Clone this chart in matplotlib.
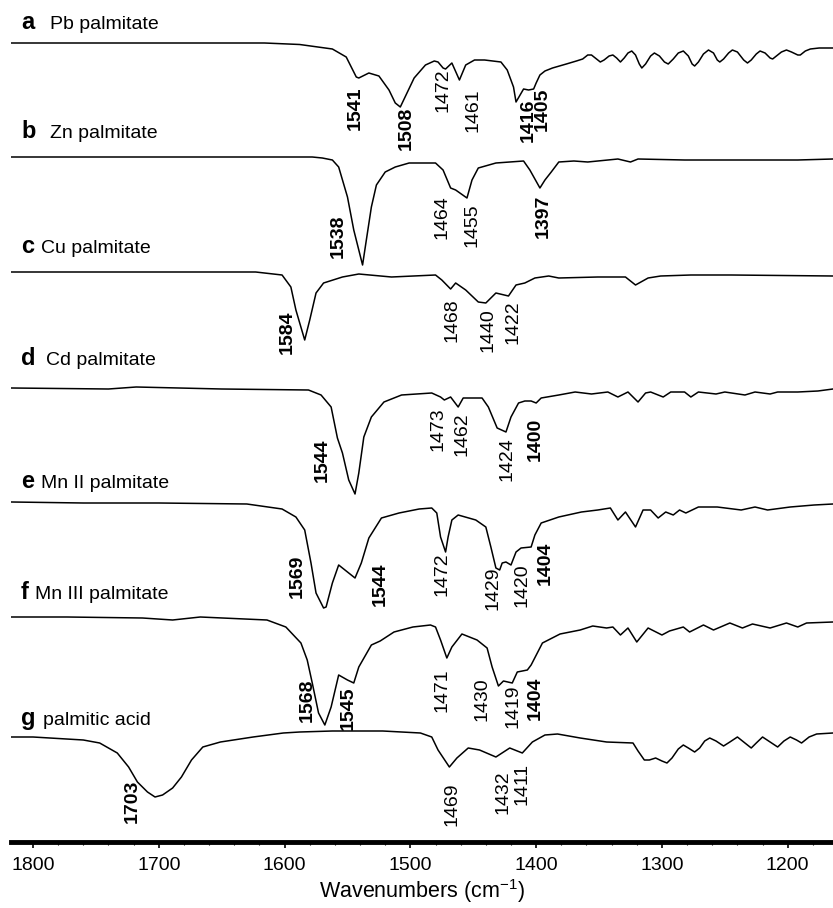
import numpy as np
import matplotlib
matplotlib.use("Agg")
import matplotlib.pyplot as plt
from matplotlib.ticker import MultipleLocator

plt.rcParams['font.family'] = ['Liberation Sans', 'DejaVu Sans']

# each trace: wavenumber (cm-1) and drop below its own baseline
pb_wn = [1817, 1616, 1588, 1562, 1551, 1543, 1541, 1533, 1525, 1517, 1512, 1508, 1497, 1488,
         1481, 1478, 1474, 1472, 1467, 1461, 1456, 1449, 1441, 1428, 1423, 1418, 1416, 1410,
         1406, 1402, 1400, 1397, 1393, 1387, 1376, 1368, 1363, 1359, 1356, 1352, 1349, 1346,
         1342, 1339, 1336, 1333, 1330, 1327, 1324, 1321, 1318, 1316, 1313, 1309, 1306, 1302,
         1298, 1295, 1291, 1287, 1283, 1279, 1276, 1274, 1271, 1267, 1263, 1259, 1256, 1254,
         1251, 1247, 1244, 1240, 1235, 1232, 1229, 1225, 1222, 1218, 1214, 1212, 1209, 1205,
         1201, 1197, 1192, 1190, 1186, 1182, 1175, 1164]
pb_dep = [0, 0, 1.5, 6, 14, 34, 35, 30, 33, 47, 60, 64, 35, 22,
          18, 19, 25, 26, 20, 37, 22, 17, 17, 19, 27, 44, 59, 46,
          47, 46, 40, 32, 28, 25, 21, 18, 16, 12, 12, 16, 19, 17,
          13, 12, 15, 19, 15, 10, 8, 12, 21, 25, 21, 13, 10, 13,
          19, 21, 16, 10, 8, 13, 21, 23, 19, 11, 7, 10, 17, 19,
          16, 10, 7, 9, 17, 20, 17, 11, 8, 10, 15, 16, 13, 9,
          7, 9, 12, 12, 8, 6, 5, 5]

zn_wn = [1817, 1578, 1570, 1562, 1557, 1550, 1545, 1538, 1535, 1531, 1527, 1520, 1512, 1501,
         1480, 1474, 1468, 1464, 1455, 1451, 1446, 1432, 1410, 1405, 1397, 1393, 1388, 1382,
         1370, 1359, 1335, 1325, 1319, 1282, 1240, 1216, 1192, 1164]
zn_dep = [0, 0, 1, 3, 10, 40, 73, 108, 83, 50, 28, 15, 10, 6,
          6, 13, 31, 33, 41, 23, 11, 6, 4, 13, 31, 23, 15, 5,
          4, 5, 2, 5, 2, 3, 3, 3, 3, 2]

cu_wn = [1817, 1623, 1602, 1595, 1591, 1584, 1580, 1575, 1569, 1554, 1541, 1515, 1480, 1475,
         1468, 1464, 1456, 1446, 1440, 1432, 1422, 1416, 1409, 1401, 1390, 1382, 1351, 1329,
         1321, 1311, 1301, 1277, 1245, 1164]
cu_dep = [0, 0, 3, 15, 38, 68, 48, 21, 11, 5, 2, 5, 3, 8,
          17, 11, 18, 30, 31, 21, 24, 13, 11, 6, 4, 6, 5, 5,
          13, 6, 4, 3, 3, 4]

cd_wn = [1817, 1740, 1718, 1650, 1581, 1571, 1563, 1558, 1554, 1549, 1544, 1541, 1537, 1531,
         1521, 1507, 1483, 1476, 1473, 1468, 1462, 1458, 1443, 1438, 1431, 1424, 1420, 1414,
         1409, 1404, 1400, 1396, 1382, 1369, 1356, 1343, 1335, 1327, 1319, 1313, 1309, 1299,
         1293, 1282, 1277, 1271, 1257, 1250, 1234, 1226, 1214, 1208, 1192, 1176, 1164]
cd_dep = [0, 1, -1, 1, 2, 7, 19, 50, 65, 92, 106, 85, 49, 29,
          14, 7, 5, 9, 12, 9, 19, 10, 10, 19, 40, 44, 29, 15,
          13, 13, 15, 10, 7, 4, 6, 4, 9, 4, 14, 5, 4, 9,
          4, 4, 9, 4, 6, 4, 7, 4, 6, 4, 4, 3, 1]

mn2_wn = [1817, 1760, 1700, 1630, 1602, 1591, 1584, 1579, 1575, 1569, 1567, 1562, 1557, 1550,
          1544, 1539, 1533, 1523, 1509, 1493, 1483, 1479, 1476, 1472, 1470, 1467, 1462, 1448,
          1440, 1436, 1432, 1429, 1427, 1424, 1420, 1416, 1412, 1404, 1401, 1396, 1382, 1364,
          1351, 1341, 1335, 1329, 1321, 1315, 1309, 1303, 1297, 1291, 1286, 1281, 1271, 1256,
          1237, 1226, 1216, 1198, 1179, 1164]
mn2_dep = [0, 1, 1, 2, 7, 15, 28, 61, 91, 106, 105, 81, 63, 70,
           76, 61, 36, 16, 11, 7, 6, 11, 35, 50, 35, 18, 13, 18,
           25, 45, 66, 68, 61, 60, 63, 50, 46, 45, 33, 21, 15, 10,
           8, 6, 18, 10, 25, 8, 8, 16, 10, 13, 8, 11, 5, 5,
           8, 5, 8, 5, 3, 2]

mn3_wn = [1817, 1773, 1713, 1689, 1667, 1614, 1599, 1587, 1582, 1578, 1573, 1568, 1563, 1557,
          1550, 1545, 1541, 1531, 1524, 1513, 1498, 1484, 1480, 1476, 1471, 1467, 1459, 1447,
          1439, 1435, 1430, 1426, 1419, 1415, 1407, 1404, 1395, 1381, 1365, 1355, 1344, 1339,
          1333, 1327, 1320, 1311, 1300, 1294, 1283, 1278, 1267, 1259, 1246, 1236, 1228, 1214,
          1201, 1192, 1185, 1164]
mn3_dep = [0, 0, 1, 3, 0, 3, 10, 26, 43, 66, 96, 108, 90, 58,
           63, 66, 50, 28, 24, 15, 10, 8, 10, 23, 41, 30, 17, 23,
           31, 50, 69, 64, 66, 55, 53, 48, 26, 17, 13, 9, 11, 10,
           18, 11, 25, 11, 18, 14, 10, 15, 8, 13, 6, 11, 7, 11,
           6, 10, 6, 5]

pa_wn = [1817, 1800, 1760, 1747, 1733, 1724, 1717, 1709, 1703, 1697, 1689, 1682, 1674, 1665,
         1651, 1625, 1601, 1588, 1562, 1522, 1492, 1483, 1478, 1469, 1463, 1454, 1445, 1432,
         1421, 1411, 1403, 1393, 1383, 1365, 1344, 1323, 1319, 1314, 1310, 1305, 1300, 1296,
         1292, 1287, 1283, 1279, 1274, 1270, 1266, 1262, 1257, 1251, 1246, 1240, 1235, 1229,
         1225, 1220, 1214, 1208, 1203, 1198, 1193, 1189, 1183, 1177, 1164]
pa_dep = [0, 0, 3, 6, 16, 30, 45, 55, 60, 58, 51, 40, 23, 10,
          5, 0, -4, -5, -6, -6, -4, 0, 13, 30, 21, 11, 13, 20,
          11, 16, 5, -2, -3, 1, 5, 6, 14, 23, 23, 21, 24, 26,
          21, 12, 8, 11, 15, 11, 4, 1, 4, 9, 5, 0, 5, 11,
          6, 0, 5, 10, 4, 0, 3, 6, 0, -3, -4]

letters = ['a', 'b', 'c', 'd', 'e', 'f', 'g']
names = ['Pb palmitate', 'Zn palmitate', 'Cu palmitate', 'Cd palmitate',
         'Mn II palmitate', 'Mn III palmitate', 'palmitic acid']

# assigned bands, bold = carboxylate / acid C=O bands
pb_peaks = [1541, 1508, 1472, 1461, 1416, 1405]
zn_peaks = [1538, 1464, 1455, 1397]
cu_peaks = [1584, 1468, 1440, 1422]
cd_peaks = [1544, 1473, 1462, 1424, 1400]
mn2_peaks = [1569, 1544, 1472, 1429, 1420, 1404]
mn3_peaks = [1568, 1545, 1471, 1430, 1419, 1404]
pa_peaks = [1703, 1469, 1432, 1411]
bold_peaks = [
    [1541, 1508, 1416, 1405],
    [1538, 1397],
    [1584],
    [1544, 1400],
    [1569, 1544, 1404],
    [1568, 1545, 1404],
    [1703],
]

# --- layout ---
offsets = [799, 685, 570, 454, 340, 225, 105]     # baseline height of each trace
name_rise = [14, 19, 19, 23, 14, 18, 12]          # title height above baseline
name_x = [1786.5, 1786.5, 1793.6, 1789.7, 1793.6, 1798.4, 1792]
# label centre (cm-1) and top (drop below baseline) for each band label
tag_pos = [
    [(1544, 44), (1503.5, 64), (1474, 25), (1450.5, 45), (1406.5, 55), (1395, 45)],
    [(1557.6, 58), (1475, 38), (1451, 46), (1394.6, 38)],
    [(1598, 38), (1467, 26), (1438, 36), (1418.5, 28)],
    [(1570, 50), (1478, 19), (1459, 24), (1423, 49), (1401, 30)],
    [(1590, 53), (1524, 61), (1475, 50), (1434, 65), (1411, 61), (1393, 40)],
    [(1582, 61), (1549.6, 70), (1475, 51), (1443, 60), (1418.5, 68), (1401, 60)],
    [(1721, 43), (1467, 45), (1426, 33), (1411, 26)],
]

spectra = [(pb_wn, pb_dep), (zn_wn, zn_dep), (cu_wn, cu_dep), (cd_wn, cd_dep),
           (mn2_wn, mn2_dep), (mn3_wn, mn3_dep), (pa_wn, pa_dep)]
peaks = [pb_peaks, zn_peaks, cu_peaks, cd_peaks, mn2_peaks, mn3_peaks, pa_peaks]

fig = plt.figure(figsize=(8.33, 9.08), dpi=100)
ax = fig.add_axes([11 / 833, 66 / 908, 822 / 833, 842 / 908])

for i, (wn, dep) in enumerate(spectra):
    off = offsets[i]
    ax.plot(wn, off - np.array(dep), color='black', lw=1.1, solid_joinstyle='round')

    ax.text(1809.5, off + name_rise[i], letters[i], fontsize=17, fontweight='bold',
            ha='left', va='baseline')
    ax.text(name_x[i], off + name_rise[i], names[i], fontsize=14,
            ha='left', va='baseline')

    for pk, (lx, top) in zip(peaks[i], tag_pos[i]):
        ax.text(lx, off - top, str(pk), rotation=90, ha='center', va='top',
                fontsize=14, fontweight='bold' if pk in bold_peaks[i] else 'normal')

ax.set_xlim(1817.5, 1164)
ax.set_ylim(0, 842)

for s in ['top', 'left', 'right']:
    ax.spines[s].set_visible(False)
ax.spines['bottom'].set_linewidth(3.5)
ax.set_yticks([])
ax.xaxis.set_major_locator(MultipleLocator(100))
ax.xaxis.set_minor_locator(MultipleLocator(20))
ax.tick_params(axis='x', which='major', direction='out', length=4, width=1.2,
               labelsize=14, pad=7)
ax.tick_params(axis='x', which='minor', direction='out', length=2, width=0.8)
ax.set_xlabel('Wavenumbers (cm$^{\\mathregular{-1}}$)', fontsize=15.5, labelpad=2)
ax.patch.set_visible(False)

fig.savefig('out.png', dpi=100)
